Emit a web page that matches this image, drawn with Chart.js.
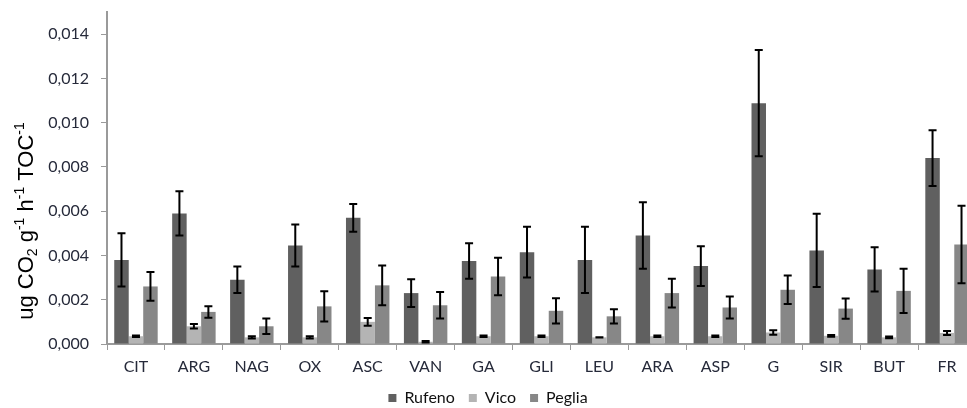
<!DOCTYPE html>
<html>
<head>
<meta charset="utf-8">
<script src="https://cdn.jsdelivr.net/npm/chart.js@4.4.1/dist/chart.umd.min.js"></script>
<style>
  html, body { margin: 0; padding: 0; background: #fff; }
  body { width: 967px; height: 408px; overflow: hidden; }
  #wrap { width: 980px; height: 408px; }
</style>
</head>
<body>
<div id="wrap"><canvas id="chart" width="980" height="408"></canvas></div>
<script>
const categories = ['CIT', 'ARG', 'NAG', 'OX', 'ASC', 'VAN', 'GA', 'GLI', 'LEU', 'ARA', 'ASP', 'G', 'SIR', 'BUT', 'FR'];

const rufeno = [0.0038, 0.0059, 0.0029, 0.00445, 0.0057, 0.0023, 0.00375, 0.00415, 0.0038, 0.0049, 0.00352, 0.01088, 0.00423, 0.00337, 0.0084];
const rufenoErr = [0.0012, 0.001, 0.0006, 0.00095, 0.00063, 0.00063, 0.0008, 0.00115, 0.0015, 0.0015, 0.0009, 0.0024, 0.00165, 0.001, 0.00126];

const vico = [0.00035, 0.0008, 0.0003, 0.0003, 0.001, 0.0001, 0.00035, 0.00035, 0.0003, 0.00035, 0.00035, 0.00052, 0.00037, 0.0003, 0.0005];
const vicoErr = [0.00003, 0.0001, 0.00005, 0.00005, 0.00017, 0.00003, 0.00003, 0.00003, 0.00001, 0.00003, 0.00003, 0.0001, 0.00004, 0.00004, 0.00009];

const peglia = [0.0026, 0.00145, 0.0008, 0.0017, 0.00265, 0.00175, 0.00305, 0.0015, 0.00125, 0.0023, 0.00165, 0.00245, 0.0016, 0.0024, 0.0045];
const pegliaErr = [0.00065, 0.00026, 0.00035, 0.00068, 0.0009, 0.0006, 0.00085, 0.00057, 0.00032, 0.00065, 0.0005, 0.00064, 0.00046, 0.001, 0.00175];

const yMax = 0.015;
const yStep = 0.002;

const textColor = '#262a3a';
const axisColor = '#9a9a9a';

// error bars drawn from each bar's position and the y scale
const errorBars = {
  id: 'errorBars',
  afterDatasetsDraw(chart) {
    const ctx = chart.ctx;
    const yScale = chart.scales.y;
    ctx.save();
    ctx.strokeStyle = '#000';
    ctx.lineWidth = 2;
    chart.data.datasets.forEach((ds, i) => {
      const meta = chart.getDatasetMeta(i);
      meta.data.forEach((bar, j) => {
        const v = ds.data[j];
        const e = ds.errors[j];
        const top = yScale.getPixelForValue(v + e);
        const bot = yScale.getPixelForValue(v - e);
        const x = bar.x;
        ctx.beginPath();
        ctx.moveTo(x, top);
        ctx.lineTo(x, bot);
        ctx.moveTo(x - 4, top);
        ctx.lineTo(x + 4, top);
        ctx.moveTo(x - 4, bot);
        ctx.lineTo(x + 4, bot);
        ctx.stroke();
      });
    });
    ctx.restore();
  }
};

// y axis title with sub- and superscripts
const yTitle = {
  id: 'yTitle',
  afterDraw(chart) {
    const ctx = chart.ctx;
    const parts = [
      ['ug CO', 0], ['2', 1], [' g', 0], ['-1', -1], [' h', 0], ['-1', -1], [' TOC', 0], ['-1', -1]
    ];
    const big = '22px "Liberation Sans", Arial, sans-serif';
    const small = '14px "Liberation Sans", Arial, sans-serif';
    ctx.save();
    let total = 0;
    parts.forEach(p => {
      ctx.font = p[1] === 0 ? big : small;
      total += ctx.measureText(p[0]).width;
    });
    ctx.translate(33, 221);
    ctx.rotate(-Math.PI / 2);
    ctx.fillStyle = '#000';
    ctx.textBaseline = 'alphabetic';
    let x = -total / 2;
    parts.forEach(p => {
      ctx.font = p[1] === 0 ? big : small;
      const dy = p[1] === 1 ? 4 : (p[1] === -1 ? -9 : 0);
      ctx.fillText(p[0], x, dy);
      x += ctx.measureText(p[0]).width;
    });
    ctx.restore();
  }
};

new Chart(document.getElementById('chart'), {
  type: 'bar',
  data: {
    labels: categories,
    datasets: [
      { label: 'Rufeno', data: rufeno, errors: rufenoErr, backgroundColor: '#606060' },
      { label: 'Vico', data: vico, errors: vicoErr, backgroundColor: '#b4b4b4' },
      { label: 'Peglia', data: peglia, errors: pegliaErr, backgroundColor: '#878787' }
    ]
  },
  options: {
    responsive: false,
    animation: false,
    layout: { padding: { top: 12, right: 4, left: 0, bottom: -8 } },
    datasets: {
      bar: { categoryPercentage: 0.75, barPercentage: 1 }
    },
    plugins: {
      legend: {
        position: 'bottom',
        labels: {
          boxWidth: 8,
          boxHeight: 8,
          padding: 14,
          color: '#111',
          font: { family: 'Lato', size: 16 }
        }
      },
      tooltip: { enabled: false }
    },
    scales: {
      x: {
        afterFit(scale) { scale.height = 32; },
        grid: { display: true, drawOnChartArea: false, tickLength: 6, tickColor: axisColor, offset: true },
        border: { color: axisColor, width: 2 },
        ticks: { color: textColor, padding: 7, font: { family: 'Lato', size: 16 }, maxRotation: 0, autoSkip: false }
      },
      y: {
        min: 0,
        max: yMax,
        afterFit(scale) {
          scale.width = 107;
          scale.paddingTop = 0;
          scale.paddingBottom = 0;
        },
        grid: { display: true, drawOnChartArea: false, tickLength: 6, tickColor: axisColor },
        border: { color: axisColor, width: 2 },
        ticks: {
          stepSize: yStep,
          includeBounds: false,
          padding: 12,
          color: textColor,
          font: { family: 'Lato', size: 16 },
          callback: v => v.toFixed(3).replace('.', ',')
        }
      }
    }
  },
  plugins: [errorBars, yTitle]
});
</script>
</body>
</html>
